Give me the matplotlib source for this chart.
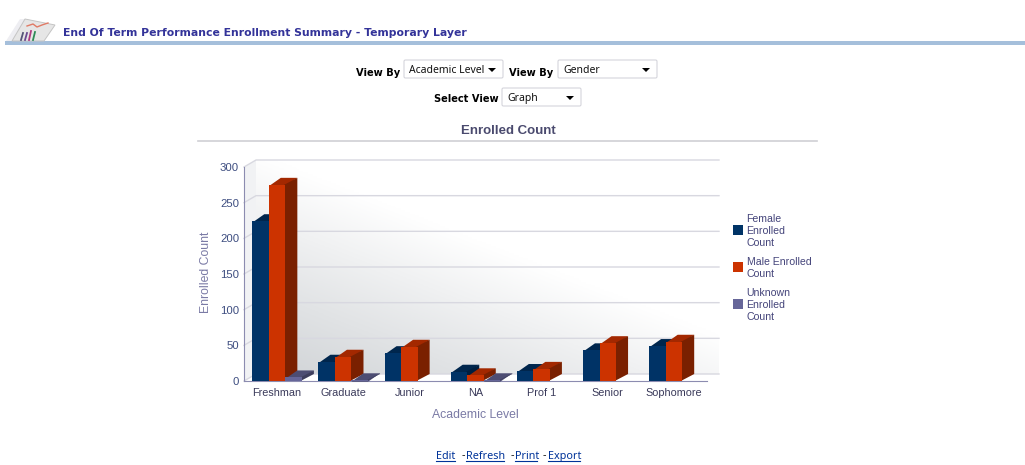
import numpy as np
import matplotlib
matplotlib.use('Agg')
import matplotlib.pyplot as plt
from matplotlib.colors import LinearSegmentedColormap
from matplotlib.patches import FancyBboxPatch, Polygon, Rectangle

categories = ['Freshman', 'Graduate', 'Junior', 'NA', 'Prof 1', 'Senior', 'Sophomore']
female = [224, 27, 39, 13, 14, 43, 49]
male = [275, 34, 48, 8, 17, 53, 55]
unknown = [5, 1, 0, 1, 0, 0, 0]
y_ticks = [0, 50, 100, 150, 200, 250, 300]

legend_labels = ['Female\nEnrolled\nCount', 'Male Enrolled\nCount', 'Unknown\nEnrolled\nCount']
page_title = 'End Of Term Performance Enrollment Summary - Temporary Layer'

W, H = 1025, 465
chart_font = 'Liberation Sans'
page_font = 'Noto Sans'
bold_font = 'DejaVu Sans'

# depth of the fake 3d, in data units (12px across, 7px up)
dx = 12 / 66.14
dy = 7 / 0.7133

fig = plt.figure(figsize=(W / 100, H / 100), dpi=100, facecolor='white')

# page furniture, in pixel coordinates
page = fig.add_axes([0, 0, 1, 1])
page.set_xlim(0, W)
page.set_ylim(H, 0)
page.axis('off')


def select_box(x0, x1, y0, y1, label):
    page.add_patch(FancyBboxPatch((x0 + 1, y0 + 1), x1 - x0 - 2, y1 - y0 - 2,
                                  boxstyle='round,pad=1,rounding_size=1.5',
                                  fc='white', ec='#d5d5dc', lw=0.8))
    page.text(x0 + 5, (y0 + y1) / 2 + 1.5, label, fontsize=7.5, family=page_font,
              color='#111111', va='center')
    page.add_patch(Polygon([(x1 - 15, y0 + 8), (x1 - 7, y0 + 8), (x1 - 11, y0 + 12)],
                           fc='black', ec='none'))


page.add_patch(Rectangle((5, 41), W - 5, 4, fc='#a5bfdb', ec='none'))
page.text(63, 33.5, page_title, fontsize=7.8, fontweight='bold', family=bold_font,
          color='#333399', va='center')

# report icon
page.add_patch(Polygon([(6, 41), (20, 19), (25, 19), (12, 41)], fc='#eeeef2', ec='none'))
page.add_patch(Polygon([(12, 41), (25, 19), (55, 25), (44, 41)], fc='#e6e6e6', ec='#c4c4c4', lw=0.7))
page.plot([27, 33, 37, 42, 48], [26, 24, 27, 25, 23], color='#e07a66', lw=1)
page.plot([23, 21], [33, 40], color='#555577', lw=1.3)
page.plot([27, 25], [33, 40], color='#6a4a90', lw=1.3)
page.plot([31, 29], [31, 40], color='#b03a80', lw=1.3)
page.plot([35, 33], [32, 40], color='#2e8b57', lw=1.3)

page.text(400, 72.5, 'View By', fontsize=7.1, fontweight='bold', family=bold_font, ha='right', va='center')
select_box(404, 503, 60, 78, 'Academic Level')
page.text(553, 72.5, 'View By', fontsize=7.1, fontweight='bold', family=bold_font, ha='right', va='center')
select_box(558, 657, 60, 78, 'Gender')
page.text(499, 98.5, 'Select View', fontsize=7.1, fontweight='bold', family=bold_font, ha='right', va='center')
select_box(502, 581, 88, 106, 'Graph')

page.text(508, 131, 'Enrolled Count', fontsize=9.5, fontweight='bold', family=chart_font,
          color='#4a4a6e', ha='center', va='center')
page.plot([198, 817], [141, 141], color='#cfcfd4', lw=1.2)

# legend
swatches = ['#003366', '#cc3300', '#666699']
for lab, col, sy, ty in zip(legend_labels, swatches, [225, 262, 299], [231, 268, 305]):
    page.add_patch(Rectangle((733, sy), 10, 10, fc=col, ec='none'))
    page.text(746.6, ty, lab, fontsize=7.6, family=chart_font, color='#44447a',
              va='center', linespacing=1.22)

# links under the chart
for lab, x0, x1 in [('Edit', 436, 455), ('Refresh', 466, 504), ('Print', 515, 537), ('Export', 548, 580)]:
    page.text(x0, 456, lab, fontsize=7.8, family=page_font, color='#003399', va='center')
    page.plot([x0, x1], [460.5, 460.5], color='#003399', lw=0.8)
for x in [462, 511, 543]:
    page.text(x, 456, '-', fontsize=7.8, family=page_font, color='#111111', va='center')

# the chart itself
left, right, top, bottom = 244, 707, 167, 381
ax = fig.add_axes([left / W, 1 - bottom / H, (right - left) / W, (bottom - top) / H])
ax.patch.set_alpha(0)
ax.set_xlim(-0.5, 6.5)
ax.set_ylim(0, 300)
ax.spines['top'].set_visible(False)
ax.spines['right'].set_visible(False)
ax.spines['left'].set_color('#8c8cb0')
ax.spines['bottom'].set_color('#8c8cb0')

# back wall, light diagonal shading
u, v = np.meshgrid(np.linspace(0, 1, 200), np.linspace(0, 1, 120))
shade = np.clip(0.85 * u + 1.0 * v - 0.03, 0, 1) ** 1.1
cmap = LinearSegmentedColormap.from_list('wall', ['#d2d5d8', '#ffffff'])
ax.imshow(shade, cmap=cmap, vmin=0, vmax=1, origin='lower', aspect='auto', zorder=0,
          extent=(-0.5 + dx, 6.5 + dx, dy, 300 + dy), clip_on=False)
ax.add_patch(Polygon([(-0.5, 0), (-0.5 + dx, dy), (-0.5 + dx, 300 + dy), (-0.5, 300)],
                     fc='#f1f2f4', ec='none', zorder=0.5, clip_on=False))
ax.set_xlim(-0.5, 6.5)
ax.set_ylim(0, 300)

for t in y_ticks:
    ax.plot([-0.5, -0.5 + dx, 6.5 + dx], [t, t + dy, t + dy], color='#d8d8e0', lw=1,
            zorder=1, clip_on=False)

w = 0.25
x = np.arange(len(categories))
series = [
    (female, -w, '#003366', '#00264d', '#001f40', 3),
    (male, 0, '#cc3300', '#a32800', '#7a2000', 4),
    (unknown, w, '#666699', '#4d4d73', '#3d3d5c', 5),
]
for vals, off, front, lid, side, z in series:
    ax.bar(x + off, vals, w, color=front, zorder=z + 0.2, clip_on=False, antialiased=False)
    for xi, val in zip(x + off, vals):
        if val == 0:
            continue
        x0, x1 = xi - w / 2, xi + w / 2
        # faces run a little under the front so no light seam shows
        ax.fill([x0, x1, x1 + dx, x0 + dx], [val - 2, val - 2, val + dy, val + dy], color=lid,
                lw=0, zorder=z, clip_on=False)
        ax.fill([x1 - 0.02, x1 + dx, x1 + dx, x1 - 0.02], [0, dy, val + dy, val], color=side,
                lw=0, zorder=z + 0.1, clip_on=False)

ax.set_xticks(x)
ax.set_xticklabels(categories, fontsize=7.8, family=chart_font, color='#3a3a5a')
ax.set_yticks(y_ticks)
ax.set_yticklabels([str(t) for t in y_ticks], fontsize=8.2, family=chart_font, color='#3d4d80')
ax.tick_params(axis='both', length=0)
ax.tick_params(axis='x', pad=5)
ax.tick_params(axis='y', pad=3.5)
ax.set_xlabel('Academic Level', fontsize=8.8, family=chart_font, color='#7a7aa5', labelpad=8)
ax.set_ylabel('Enrolled Count', fontsize=8.8, family=chart_font, color='#7a7aa5', labelpad=6)
ax.yaxis.label.set_y(0.51)

plt.savefig('out.png', dpi=100)
